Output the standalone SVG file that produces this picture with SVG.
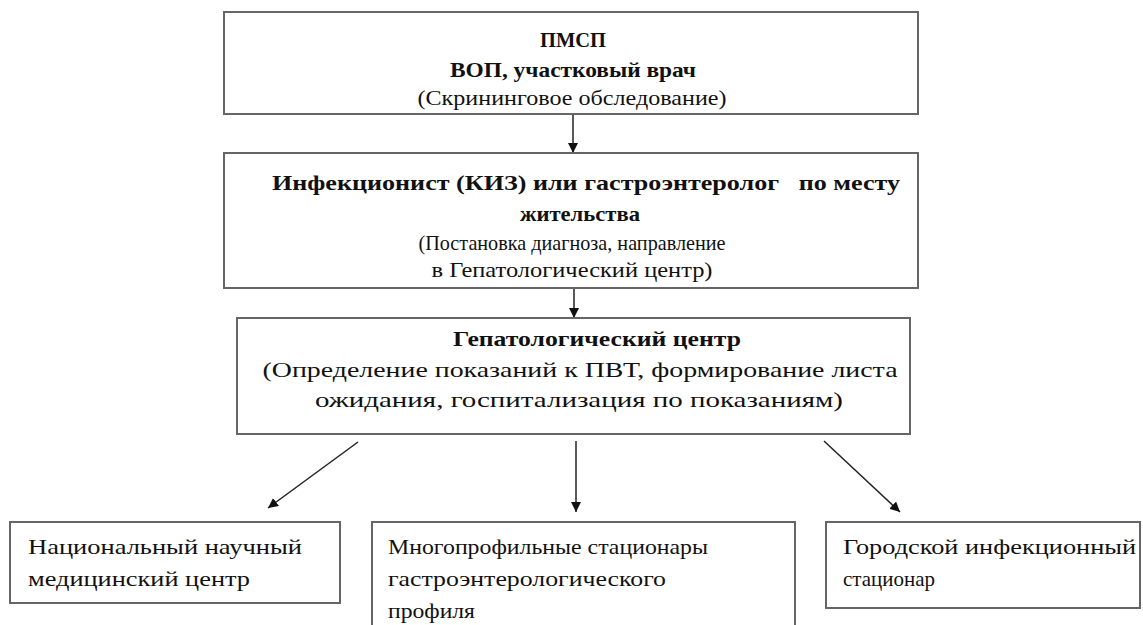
<svg xmlns="http://www.w3.org/2000/svg" width="1143" height="625" viewBox="0 0 1143 625">
<defs>
<marker id="ah" viewBox="0 0 10 10" refX="10" refY="5" markerWidth="10" markerHeight="10" markerUnits="userSpaceOnUse" orient="auto">
<path d="M0,0 L10,5 L0,10 z" fill="#111"/>
</marker>
<style>
.box{fill:#fff;stroke:#666;stroke-width:2}
.t{font-family:'Liberation Serif','DejaVu Serif',serif;font-size:22px;fill:#111}
.b{font-weight:bold}
.c{text-anchor:middle}
.ln{stroke:#222;stroke-width:1.5;fill:none;marker-end:url(#ah)}
</style>
</defs>
<rect width="1143" height="625" fill="#fff"/>
<g id="connectors">
<line class="ln" x1="573" y1="114" x2="573" y2="153"/>
<line class="ln" x1="574" y1="288" x2="574" y2="318"/>
<line class="ln" x1="358" y1="442" x2="268" y2="508"/>
<line class="ln" x1="576" y1="441" x2="576" y2="512"/>
<line class="ln" x1="824" y1="441" x2="900" y2="512"/>
</g>
<g id="n1" font-family="Liberation Serif, serif">
<rect class="box" x="224" y="12" width="694" height="102"/>
<text class="t b c" x="573" y="47" textLength="66" lengthAdjust="spacingAndGlyphs">ПМСП</text>
<text class="t b c" x="573" y="77" textLength="246" lengthAdjust="spacingAndGlyphs">ВОП, участковый врач</text>
<text class="t c" x="572" y="105" textLength="309" lengthAdjust="spacingAndGlyphs">(Скрининговое обследование)</text>
</g>
<g id="n2" font-family="Liberation Serif, serif">
<rect class="box" x="224" y="153" width="694" height="135"/>
<text class="t b c" x="586" y="190" textLength="628" lengthAdjust="spacingAndGlyphs" xml:space="preserve">Инфекционист (КИЗ) или гастроэнтеролог   по месту</text>
<text class="t b c" x="580" y="221" textLength="120" lengthAdjust="spacingAndGlyphs">жительства</text>
<text class="t c" x="572" y="250" textLength="307" lengthAdjust="spacingAndGlyphs">(Постановка диагноза, направление</text>
<text class="t c" x="572" y="277" textLength="281" lengthAdjust="spacingAndGlyphs">в Гепатологический центр)</text>
</g>
<g id="n3" font-family="Liberation Serif, serif">
<rect class="box" x="237" y="318" width="673" height="116"/>
<text class="t b c" x="597" y="346" textLength="288" lengthAdjust="spacingAndGlyphs">Гепатологический центр</text>
<text class="t c" x="580" y="377" textLength="635" lengthAdjust="spacingAndGlyphs">(Определение показаний к ПВТ, формирование листа</text>
<text class="t c" x="579" y="407" textLength="528" lengthAdjust="spacingAndGlyphs">ожидания, госпитализация по показаниям)</text>
</g>
<g id="n4" font-family="Liberation Serif, serif">
<rect class="box" x="10" y="522" width="330" height="81"/>
<text class="t" x="28" y="554" textLength="274" lengthAdjust="spacingAndGlyphs">Национальный научный</text>
<text class="t" x="28" y="586" textLength="222" lengthAdjust="spacingAndGlyphs">медицинский центр</text>
</g>
<g id="n5" font-family="Liberation Serif, serif">
<rect class="box" x="372" y="522" width="423" height="120"/>
<text class="t" x="388" y="554" textLength="320" lengthAdjust="spacingAndGlyphs">Многопрофильные стационары</text>
<text class="t" x="388" y="586" textLength="278" lengthAdjust="spacingAndGlyphs">гастроэнтерологического</text>
<text class="t" x="388" y="618" textLength="87" lengthAdjust="spacingAndGlyphs">профиля</text>
</g>
<g id="n6" font-family="Liberation Serif, serif">
<rect class="box" x="826" y="522" width="314" height="86"/>
<text class="t" x="843" y="554" textLength="293" lengthAdjust="spacingAndGlyphs">Городской инфекционный</text>
<text class="t" x="843" y="586" textLength="92" lengthAdjust="spacingAndGlyphs">стационар</text>
</g>
</svg>
